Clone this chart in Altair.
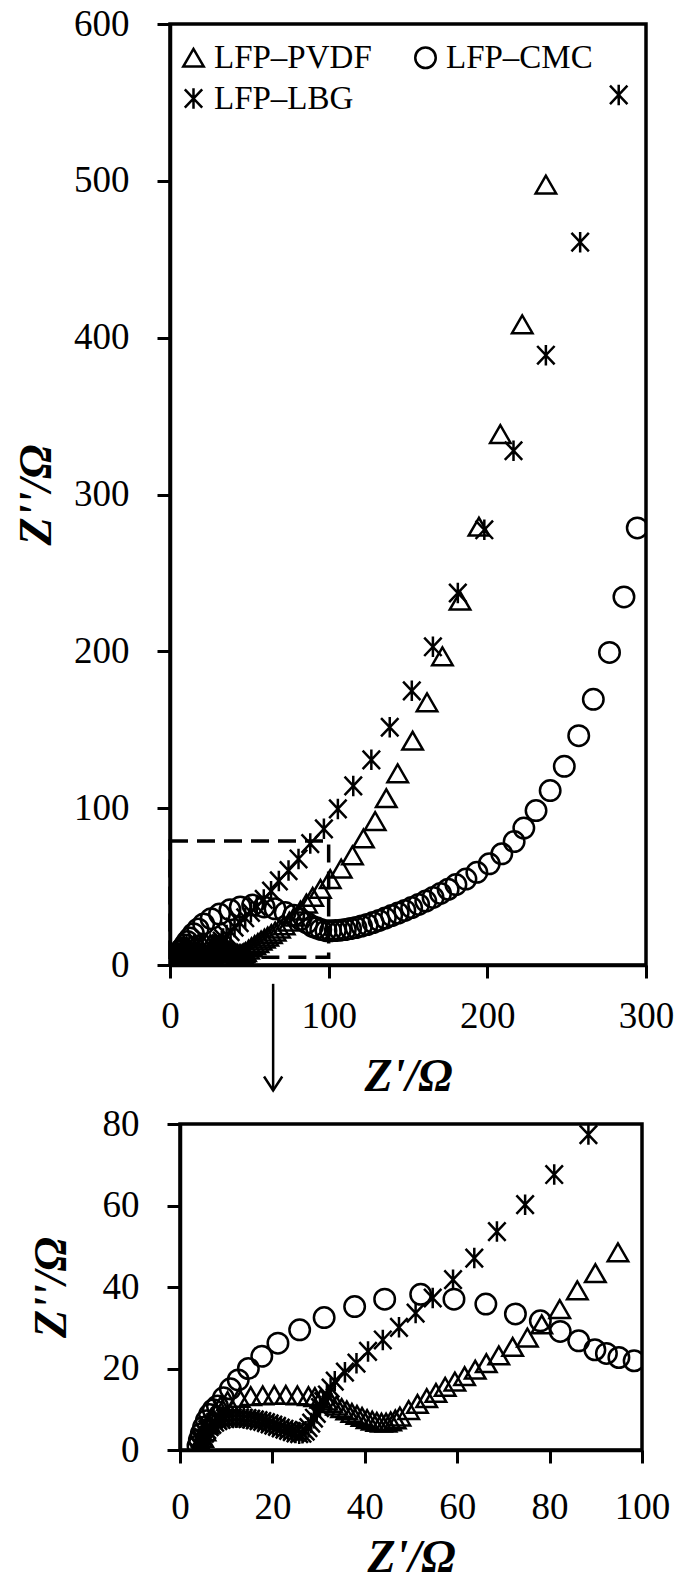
import altair as alt
import pandas as pd

SERIES = ["LFP–PVDF", "LFP–CMC", "LFP–LBG"]

pvdf_x = [4.2, 4.5, 4.9, 5.4, 6.0, 6.8, 7.7, 8.8, 10.3, 12.8, 15.3, 17.9, 20.4, 22.9, 25.4, 27.8, 29.2, 30.5,
          31.7, 32.8, 33.9, 35.0, 36.1, 37.2, 38.3, 39.4, 40.5, 41.6, 42.6, 43.6, 44.6, 45.6, 46.6, 47.6,
          49.5, 51.4, 53.4, 55.4, 57.4, 59.5, 61.6, 63.9, 66.3, 69.0, 72.0, 75.2, 78.3, 82.2, 86.0, 89.9,
          94.8, 101.0, 107.9, 115.0, 121.9, 129.3, 136.3, 143.5, 152.9, 162.0, 171.7, 182.8, 194.7, 208.2,
          222.0, 236.9]
pvdf_y = [0.2, 1.5, 3.0, 4.6, 6.2, 7.9, 9.4, 10.8, 12.0, 12.8, 13.2, 13.4, 13.5, 13.5, 13.4, 13.2, 13.0, 12.6,
          12.1, 11.5, 10.9, 10.3, 9.7, 9.1, 8.6, 8.1, 7.6, 7.2, 6.9, 6.7, 6.7, 7.0, 7.5, 8.2,
          9.8, 11.3, 12.7, 14.0, 15.5, 16.8, 18.1, 19.7, 21.3, 23.2, 25.3, 27.6, 30.8, 34.6, 39.2, 43.4,
          48.5, 54.8, 61.5, 69.9, 80.7, 91.8, 106.4, 122.2, 143.0, 167.5, 196.8, 232.3, 279.5, 338.5,
          408.5, 497.6]

cmc_x = [3.9, 4.2, 4.6, 5.1, 5.7, 6.4, 7.2, 8.1, 9.4, 10.9, 12.6, 14.8, 17.7, 21.2, 25.9, 31.2, 37.8, 44.3,
         52.1, 59.3, 66.2, 72.6, 78.0, 82.3, 86.3, 89.8, 92.3, 95.0, 98.3, 101.2, 104.2, 107.3, 110.5, 113.8,
         117.2, 120.7, 124.3, 128.0, 131.8, 135.7, 139.7, 143.8, 148.0, 152.3, 156.7, 161.2, 165.8, 170.5,
         175.3, 180.2, 186.5, 193.4, 201.2, 209.1, 216.9, 223.0, 230.7, 239.6, 248.5, 257.6, 266.8, 277.0,
         286.1, 294.5]
cmc_y = [1.0, 2.5, 4.0, 5.6, 7.2, 8.7, 9.9, 10.8, 12.8, 15.0, 17.2, 20.0, 23.0, 26.2, 29.5, 32.5, 35.2, 37.0,
         38.2, 37.0, 35.8, 33.4, 31.7, 29.1, 26.8, 24.6, 23.7, 22.7, 21.9, 21.8, 22.0, 22.2, 22.6, 23.2,
         23.9, 24.8, 25.8, 27.1, 28.4, 29.9, 31.5, 33.1, 34.8, 36.6, 38.6, 40.8, 43.1, 45.6,
         48.3, 51.3, 54.8, 59.1, 64.5, 70.9, 78.7, 87.3, 98.5, 111.2, 126.7, 146.2, 169.4, 199.3,
         234.7, 278.7]

lbg_x = [4.0, 4.3, 4.6, 5.0, 5.4, 5.9, 6.4, 7.0, 7.6, 8.3, 9.0, 9.8, 10.6, 11.4, 12.2, 13.0, 13.8, 14.6,
         15.4, 16.2, 17.0, 17.8, 18.6, 19.4, 20.2, 21.0, 21.8, 22.6, 23.4, 24.2, 25.0, 25.8, 26.5, 27.2,
         27.8, 28.4, 29.0, 29.6, 30.3, 31.0, 31.8, 32.6, 33.5, 35.7, 38.2, 40.7, 43.9, 47.4, 51.0, 54.7,
         59.1, 63.7, 68.6, 74.7, 81.0, 88.4, 97.0, 105.8, 115.5, 126.9, 138.5, 152.4, 165.7, 181.4, 198.1,
         216.5, 236.9, 258.5, 282.8]
lbg_y = [-0.5, 0.8, 2.0, 3.1, 4.1, 5.0, 5.7, 6.3, 6.8, 7.2, 7.5, 7.7, 7.8, 7.9, 7.9, 7.9, 7.8, 7.7,
         7.6, 7.4, 7.2, 7.0, 6.7, 6.4, 6.1, 5.8, 5.4, 5.1, 4.8, 4.5, 4.2, 4.0, 4.1, 4.6,
         5.5, 6.6, 7.8, 9.0, 10.4, 11.9, 13.5, 15.2, 16.9, 19.1, 21.3, 24.2, 27.0, 30.1, 33.6, 37.3,
         41.8, 47.1, 53.6, 60.2, 67.6, 77.4, 86.8, 99.5, 114.2, 130.8, 151.6, 174.8, 202.9, 237.2, 277.5,
         327.9, 388.8, 460.9, 554.8]

top_x_ticks = [0, 100, 200, 300]
top_y_ticks = [0, 100, 200, 300, 400, 500, 600]
bot_x_ticks = [0, 20, 40, 60, 80, 100]
bot_y_ticks = [0, 20, 40, 60, 80]

zoom_box = {"x1": [0], "x2": [100], "y1": [5], "y2": [79]}
arrow_x = [65, 65]
arrow_y = [-12, -80]

rows = []
for name, xs, ys in [(SERIES[0], pvdf_x, pvdf_y), (SERIES[1], cmc_x, cmc_y), (SERIES[2], lbg_x, lbg_y)]:
    for a, b in zip(xs, ys):
        rows.append({"series": name, "zr": a, "zi": b})
df = pd.DataFrame(rows)

ASTERISK = "M0,-1L0,1M-0.85,-0.9L0.85,0.9M-0.85,0.9L0.85,-0.9"
shape_scale = alt.Scale(domain=SERIES, range=["triangle-up", "circle", ASTERISK])
FONT = "Liberation Serif"
MSIZE = 420
MSTROKE = 2.5


def points(data, xdom, ydom, xt, yt, ytp, xlp, xtp, with_legend):
    legend = None
    if with_legend:
        legend = alt.Legend(title=None, orient="none", legendX=7, legendY=17, columns=2,
                            direction="horizontal",
                            symbolSize=MSIZE, symbolStrokeWidth=MSTROKE, symbolStrokeColor="black",
                            symbolFillColor="transparent", labelFont=FONT, labelFontSize=33,
                            labelColor="black", labelOffset=4, rowPadding=7, columnPadding=37,
                            padding=0)
    return alt.Chart(data).mark_point(filled=False, size=MSIZE, strokeWidth=MSTROKE, color="black",
                                      opacity=1, clip=True).encode(
        x=alt.X("zr:Q", scale=alt.Scale(domain=xdom, nice=False, zero=False),
                axis=alt.Axis(values=xt, title="Z'/Ω", labelFlush=False, labelOverlap=False,
                              labelPadding=xlp, titlePadding=xtp)),
        y=alt.Y("zi:Q", scale=alt.Scale(domain=ydom, nice=False, zero=False),
                axis=alt.Axis(values=yt, title="Z''/Ω", labelFlush=False, labelOverlap=False,
                              labelPadding=28, titlePadding=ytp)),
        shape=alt.Shape("series:N", scale=shape_scale, legend=legend),
    )


top_pts = points(df, [0, 300], [0, 600], top_x_ticks, top_y_ticks, 13.5, 20, 20, True)
box = alt.Chart(pd.DataFrame(zoom_box)).mark_rect(fillOpacity=0, stroke="black", strokeWidth=3.5,
                                                   strokeDash=[18, 9]).encode(
    x="x1:Q", x2="x2:Q", y="y1:Q", y2="y2:Q")
adf = pd.DataFrame({"ax": arrow_x, "ay": arrow_y})
arrow_line = alt.Chart(adf).mark_line(color="black", strokeWidth=2.5, clip=False).encode(
    x="ax:Q", y="ay:Q")
arrow_head = alt.Chart(adf.iloc[[1]]).mark_point(shape="M-0.65,-1L0,0L0.65,-1", size=784, filled=False,
                                                 color="black", strokeWidth=2.5, opacity=1,
                                                 clip=False).encode(x="ax:Q", y="ay:Q")
top = alt.layer(top_pts, box, arrow_line, arrow_head).properties(width=476, height=941)

df_zoom = df[(df["zr"] <= 100) & (df["zi"] <= 81)]
bottom = points(df_zoom, [0, 100], [0, 80], bot_x_ticks, bot_y_ticks, 27, 26, 10, False).properties(
    width=462, height=326)

spacer = alt.Chart(pd.DataFrame({"s": [0]})).mark_point(opacity=0).encode(
    x=alt.X("s:Q", axis=None), y=alt.Y("s:Q", axis=None)).properties(
    width=2, height=10, view=alt.ViewBackground(stroke=None))

bottom_row = alt.hconcat(spacer, bottom, spacing=-148)

chart = alt.vconcat(top, bottom_row, spacing=2).configure(
    padding={"left": 3, "top": -5, "right": 0, "bottom": 0}, background="white"
).configure_axis(
    grid=False, domainColor="black", domainWidth=3.5, tickColor="black", tickWidth=3, tickSize=13,
    labelFont=FONT, labelFontSize=37, labelColor="black",
    titleFont=FONT, titleFontSize=46, titleFontWeight="bold", titleFontStyle="italic", titleColor="black"
).configure_view(stroke="black", strokeWidth=3.5)

chart.save("out.html", embed_options={"renderer": "svg", "actions": False})
